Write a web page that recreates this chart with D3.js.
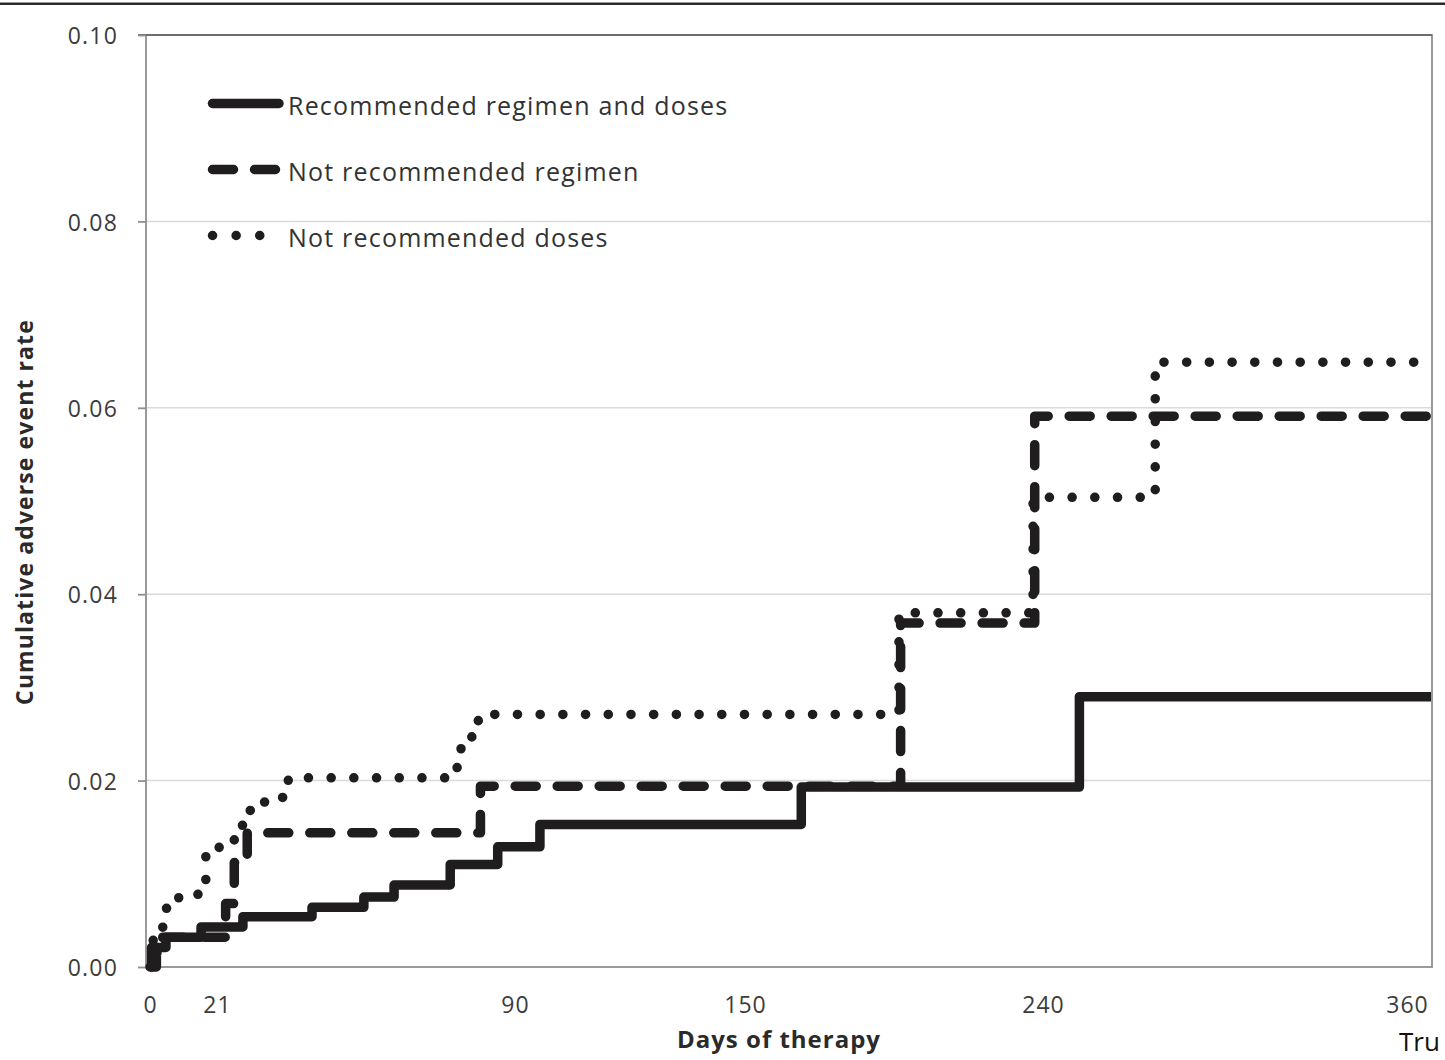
<!DOCTYPE html>
<html>
<head>
<meta charset="utf-8">
<script src="https://cdn.jsdelivr.net/npm/d3@7"></script>
<style>
  html, body { margin: 0; padding: 0; background: #ffffff; }
  svg { display: block; }
</style>
</head>
<body>
<script>
// ---------------- DATA ----------------
const seriesNames = ["Recommended regimen and doses", "Not recommended regimen", "Not recommended doses"];

// Recommended regimen and doses (solid)
const recDays  = [0, 0.5, 5, 16, 27, 43, 55, 62, 75, 86, 96.5, 167, 252, 368];
const recRates = [0, 0.0021, 0.0032, 0.0043, 0.0054, 0.0064, 0.0075, 0.0088, 0.0110, 0.0129, 0.0153, 0.0193, 0.0290, 0.0290];

// Not recommended regimen (dashed)
const regDays  = [0, 2, 4, 23, 25, 28, 82, 197, 237.5, 368];
const regRates = [0, 0.0015, 0.0032, 0.0068, 0.0112, 0.0144, 0.0194, 0.0369, 0.0591, 0.0591];

// Not recommended doses (dotted)
const doseDays  = [0, 1, 4, 9, 17.5, 21.5, 25, 27.5, 30.5, 33.5, 37.5, 76, 77.5, 80, 81.5, 196.5, 237, 277, 365];
const doseRates = [0, 0.0030, 0.0063, 0.0078, 0.0122, 0.0129, 0.0152, 0.0168, 0.0177, 0.0182, 0.0203, 0.0214, 0.0235, 0.0247, 0.0271, 0.0380, 0.0504, 0.0649, 0.0649];

const xTickValues = [0, 21, 90, 150, 240, 360];
const yTickValues = [0, 0.02, 0.04, 0.06, 0.08, 0.10];
const xKnots = [0, 21, 90, 150, 240, 360, 368];   // the axis labels are unevenly spaced
const xAxisTitle = "Days of therapy";
const yAxisTitle = "Cumulative adverse event rate";
const cornerText = "Tru";

// ---------------- LAYOUT ----------------
const W = 1445, H = 1060;
const plot = { left: 146, right: 1432, top: 35, bottom: 967 };
const xKnotPos = [150, 217, 515, 745, 1043, 1407, 1431];
const ink = "#1f1d1e";
const lineW = 9.5;

const svg = d3.select("body").append("svg")
  .attr("width", W).attr("height", H)
  .attr("viewBox", `0 0 ${W} ${H}`);

svg.append("rect").attr("width", W).attr("height", H).attr("fill", "#fff");

// top border line of the picture
svg.append("line")
  .attr("x1", 0).attr("x2", W).attr("y1", 3.8).attr("y2", 3.8)
  .attr("stroke", "#2a2a2a").attr("stroke-width", 2.4);

const x = d3.scaleLinear().domain(xKnots).range(xKnotPos);
const y = d3.scaleLinear().domain([0, 0.10]).range([plot.bottom, plot.top]);

// gridlines
svg.append("g").selectAll("line")
  .data(yTickValues.filter(v => v > 0 && v < 0.10))
  .join("line")
  .attr("x1", plot.left).attr("x2", plot.right)
  .attr("y1", d => y(d)).attr("y2", d => y(d))
  .attr("stroke", "#dadada").attr("stroke-width", 1.5);

// plot frame
svg.append("rect")
  .attr("x", plot.left).attr("y", plot.top)
  .attr("width", plot.right - plot.left).attr("height", plot.bottom - plot.top)
  .attr("fill", "none").attr("stroke", "#8f8f8f").attr("stroke-width", 1.8);
svg.append("line")
  .attr("x1", plot.left - 8).attr("x2", plot.right)
  .attr("y1", plot.top).attr("y2", plot.top)
  .attr("stroke", "#6e6e6e").attr("stroke-width", 1.8);

// y axis
const yAxis = svg.append("g")
  .attr("transform", `translate(${plot.left},0)`)
  .call(d3.axisLeft(y).tickValues(yTickValues).tickFormat(d3.format(".2f")).tickSize(8).tickPadding(20));
yAxis.select(".domain").remove();
yAxis.selectAll(".tick line").attr("stroke", "#8f8f8f").attr("stroke-width", 1.8);
yAxis.selectAll(".tick text")
  .attr("font-family", "'Open Sans', sans-serif").attr("font-size", 23)
  .attr("letter-spacing", 1.2).attr("fill", "#3c3c3c").attr("dy", "0.38em");

// x axis
const xAxis = svg.append("g")
  .attr("transform", `translate(0,${plot.bottom})`)
  .call(d3.axisBottom(x).tickValues(xTickValues).tickFormat(d3.format("d")).tickSize(0).tickPadding(30));
xAxis.select(".domain").remove();
xAxis.selectAll(".tick text")
  .attr("font-family", "'Open Sans', sans-serif").attr("font-size", 23)
  .attr("letter-spacing", 1).attr("fill", "#3c3c3c");

// axis titles
svg.append("text")
  .attr("x", 779).attr("y", 1048)
  .attr("text-anchor", "middle")
  .attr("font-family", "'Open Sans', sans-serif").attr("font-size", 24).attr("font-weight", 700)
  .attr("letter-spacing", 1).attr("fill", "#2a2a2a")
  .text(xAxisTitle);

svg.append("text")
  .attr("transform", "translate(33,512) rotate(-90)")
  .attr("text-anchor", "middle")
  .attr("font-family", "'Open Sans', sans-serif").attr("font-size", 23).attr("font-weight", 700)
  .attr("letter-spacing", 1.1).attr("fill", "#2a2a2a")
  .text(yAxisTitle);

// series
const styles = [
  { dash: null, offset: 0 },
  { dash: "21 21", offset: 0 },
  { dash: "0.1 22.6", offset: 15.6 }
];
const seriesData = [
  recDays.map((d, i) => [d, recRates[i]]),
  regDays.map((d, i) => [d, regRates[i]]),
  doseDays.map((d, i) => [d, doseRates[i]])
];

const line = d3.line().x(d => x(d[0])).y(d => y(d[1])).curve(d3.curveStepAfter);

svg.append("g").selectAll("path")
  .data(seriesData)
  .join("path")
  .attr("d", d => line(d))
  .attr("fill", "none")
  .attr("stroke", ink)
  .attr("stroke-width", lineW)
  .attr("stroke-linejoin", "round")
  .attr("stroke-linecap", (d, i) => i === 0 ? "butt" : "round")
  .attr("stroke-dasharray", (d, i) => styles[i].dash)
  .attr("stroke-dashoffset", (d, i) => styles[i].offset);

// legend
const legendTop = 103.5, legendStep = 66;
const lg = svg.append("g").selectAll("g")
  .data(seriesNames)
  .join("g")
  .attr("transform", (d, i) => `translate(0,${legendTop + i * legendStep})`);
lg.append("line")
  .attr("x1", 212.5).attr("x2", (d, i) => i === 2 ? 262 : 279)
  .attr("y1", 0).attr("y2", 0)
  .attr("stroke", ink).attr("stroke-width", lineW)
  .attr("stroke-linecap", "round")
  .attr("stroke-dasharray", (d, i) => i === 1 ? "21 21" : (i === 2 ? "0.1 23.5" : null));
lg.append("text")
  .attr("x", 288).attr("y", 11)
  .attr("font-family", "'Open Sans', sans-serif").attr("font-size", 25)
  .attr("letter-spacing", 1.2).attr("fill", "#333")
  .text(d => d);

// partly visible text at bottom right
svg.append("text")
  .attr("x", 1399).attr("y", 1051)
  .attr("font-family", "'Open Sans', sans-serif").attr("font-size", 26)
  .attr("fill", "#111")
  .text(cornerText);
</script>
</body>
</html>
